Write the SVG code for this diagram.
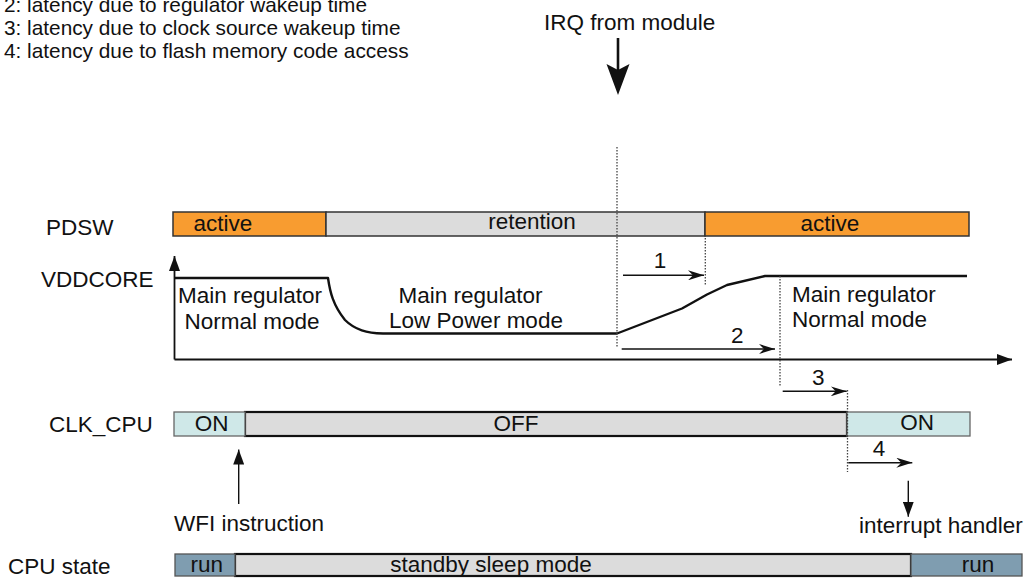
<svg xmlns="http://www.w3.org/2000/svg" width="1026" height="578" viewBox="0 0 1026 578">
<style>
text{font-family:"Liberation Sans",Arial,sans-serif;fill:#111;}
.t22{font-size:22.5px;}
.t20{font-size:20.8px;}
.mid{text-anchor:middle;}
.orange{fill:#F89C30;stroke:#333;stroke-width:1.5;}
.grey{fill:#DCDCDC;stroke:#333;stroke-width:1.5;}
.greyb{fill:#DCDCDC;stroke:#111;stroke-width:2.2;}
.cyan{fill:#CFE8E8;stroke:#666;stroke-width:1.3;}
.run{fill:#7F9DB0;stroke:#555;stroke-width:1.3;}
.dot{stroke:#444;stroke-width:1.3;stroke-dasharray:1.5 1.5;fill:none;}
.arr{stroke:#111;stroke-width:1.4;fill:none;marker-end:url(#stealth);}
.axis{stroke:#111;stroke-width:1.8;fill:none;}
</style>
<defs>
<marker id="stealth" markerUnits="userSpaceOnUse" viewBox="0 0 16 10" refX="16" refY="5" markerWidth="16" markerHeight="10" orient="auto">
<path d="M0,0 L16,5 L0,10 L5,5 z" fill="#111"/>
</marker>
<marker id="tri" markerUnits="userSpaceOnUse" viewBox="0 0 15 11" refX="15" refY="5.5" markerWidth="15" markerHeight="11" orient="auto">
<path d="M0,0 L15,5.5 L0,11 z" fill="#111"/>
</marker>
</defs>

<g id="legend">
<text class="t20" x="4" y="12">2: latency due to regulator wakeup time</text>
<text class="t20" x="4" y="35">3: latency due to clock source wakeup time</text>
<text class="t20" x="4" y="58">4: latency due to flash memory code access</text>
</g>

<g id="irq">
<text class="t22" x="544" y="30">IRQ from module</text>
<line x1="618" y1="38" x2="618" y2="72" stroke="#111" stroke-width="2.6"/>
<polygon points="606.5,64 618,70 629.5,64 618,95" fill="#111"/>
</g>

<g id="labels">
<text class="t22" x="46" y="235">PDSW</text>
<text class="t22" x="41" y="287">VDDCORE</text>
<text class="t22" x="49" y="432">CLK_CPU</text>
<text class="t22" x="8" y="574">CPU state</text>
</g>

<g id="pdsw">
<rect class="orange" x="173" y="212" width="153" height="24"/>
<rect class="grey" x="326" y="212" width="379" height="24"/>
<rect class="orange" x="705" y="212" width="264" height="24"/>
<text class="t22 mid" x="223" y="230.5">active</text>
<text class="t22 mid" x="532" y="228.5">retention</text>
<text class="t22 mid" x="830" y="230.5">active</text>
</g>

<g id="vddcore">
<path d="M174.5,278 L328,278 C330,292 333,305 345,320 C355,330 367,333 383,333.5 L617,333.5 L682,308.5 L707,294.5 L727,285 L765,276 L967,276" fill="none" stroke="#111" stroke-width="2.4" stroke-linejoin="round"/>
<text class="t22 mid" x="250" y="303">Main regulator</text>
<text class="t22 mid" x="252" y="329">Normal mode</text>
<text class="t22 mid" x="470.5" y="303">Main regulator</text>
<text class="t22 mid" x="476" y="328">Low Power mode</text>
<text class="t22" x="792" y="302">Main regulator</text>
<text class="t22" x="792" y="327">Normal mode</text>
</g>

<g id="clk_cpu">
<rect class="greyb" x="245" y="412" width="602" height="24"/>
<rect class="cyan" x="174" y="412" width="71" height="24"/>
<rect class="cyan" x="847" y="412" width="123" height="24"/>
<text class="t22 mid" x="211.7" y="430.5">ON</text>
<text class="t22 mid" x="516" y="430.5">OFF</text>
<text class="t22 mid" x="917" y="430">ON</text>
</g>

<g id="cpu_state">
<rect class="greyb" x="235" y="554" width="676" height="22"/>
<rect class="run" x="175" y="554" width="60" height="22"/>
<rect class="run" x="911" y="554" width="111" height="22"/>
<text class="t22 mid" x="206.7" y="572">run</text>
<text class="t22 mid" x="491" y="572">standby sleep mode</text>
<text class="t22 mid" x="978" y="572">run</text>
</g>

<g id="wfi">
<line x1="238.7" y1="504" x2="238.7" y2="449.5" stroke="#111" stroke-width="1.4" marker-end="url(#tri)"/>
<text class="t22" x="174" y="531">WFI instruction</text>
</g>

<g id="interrupt_handler">
<line x1="908.3" y1="480.7" x2="908.3" y2="516.7" stroke="#111" stroke-width="1.4" marker-end="url(#tri)"/>
<text class="t22" x="859" y="533">interrupt handler</text>
</g>

<g id="connectors">
<line class="axis" x1="174.5" y1="359.5" x2="174.5" y2="256" marker-end="url(#tri)"/>
<line class="axis" x1="174.5" y1="359.5" x2="1012" y2="359.5" marker-end="url(#tri)"/>
<line class="dot" x1="617" y1="147" x2="617" y2="347"/>
<line class="dot" x1="705.3" y1="238" x2="705.3" y2="285"/>
<line class="dot" x1="780" y1="276" x2="780" y2="387"/>
<line class="dot" x1="847.5" y1="390" x2="847.5" y2="472"/>
<line class="arr" x1="623" y1="275.3" x2="704" y2="275.3"/>
<line class="arr" x1="621.7" y1="349" x2="775" y2="349"/>
<line class="arr" x1="782.7" y1="391.3" x2="846.7" y2="391.3"/>
<line class="arr" x1="848.3" y1="462.7" x2="912.3" y2="462.7"/>
<text class="t22 mid" x="660" y="268.3">1</text>
<text class="t22 mid" x="737.3" y="342.7">2</text>
<text class="t22 mid" x="818.3" y="385">3</text>
<text class="t22 mid" x="879" y="456">4</text>
</g>
</svg>
